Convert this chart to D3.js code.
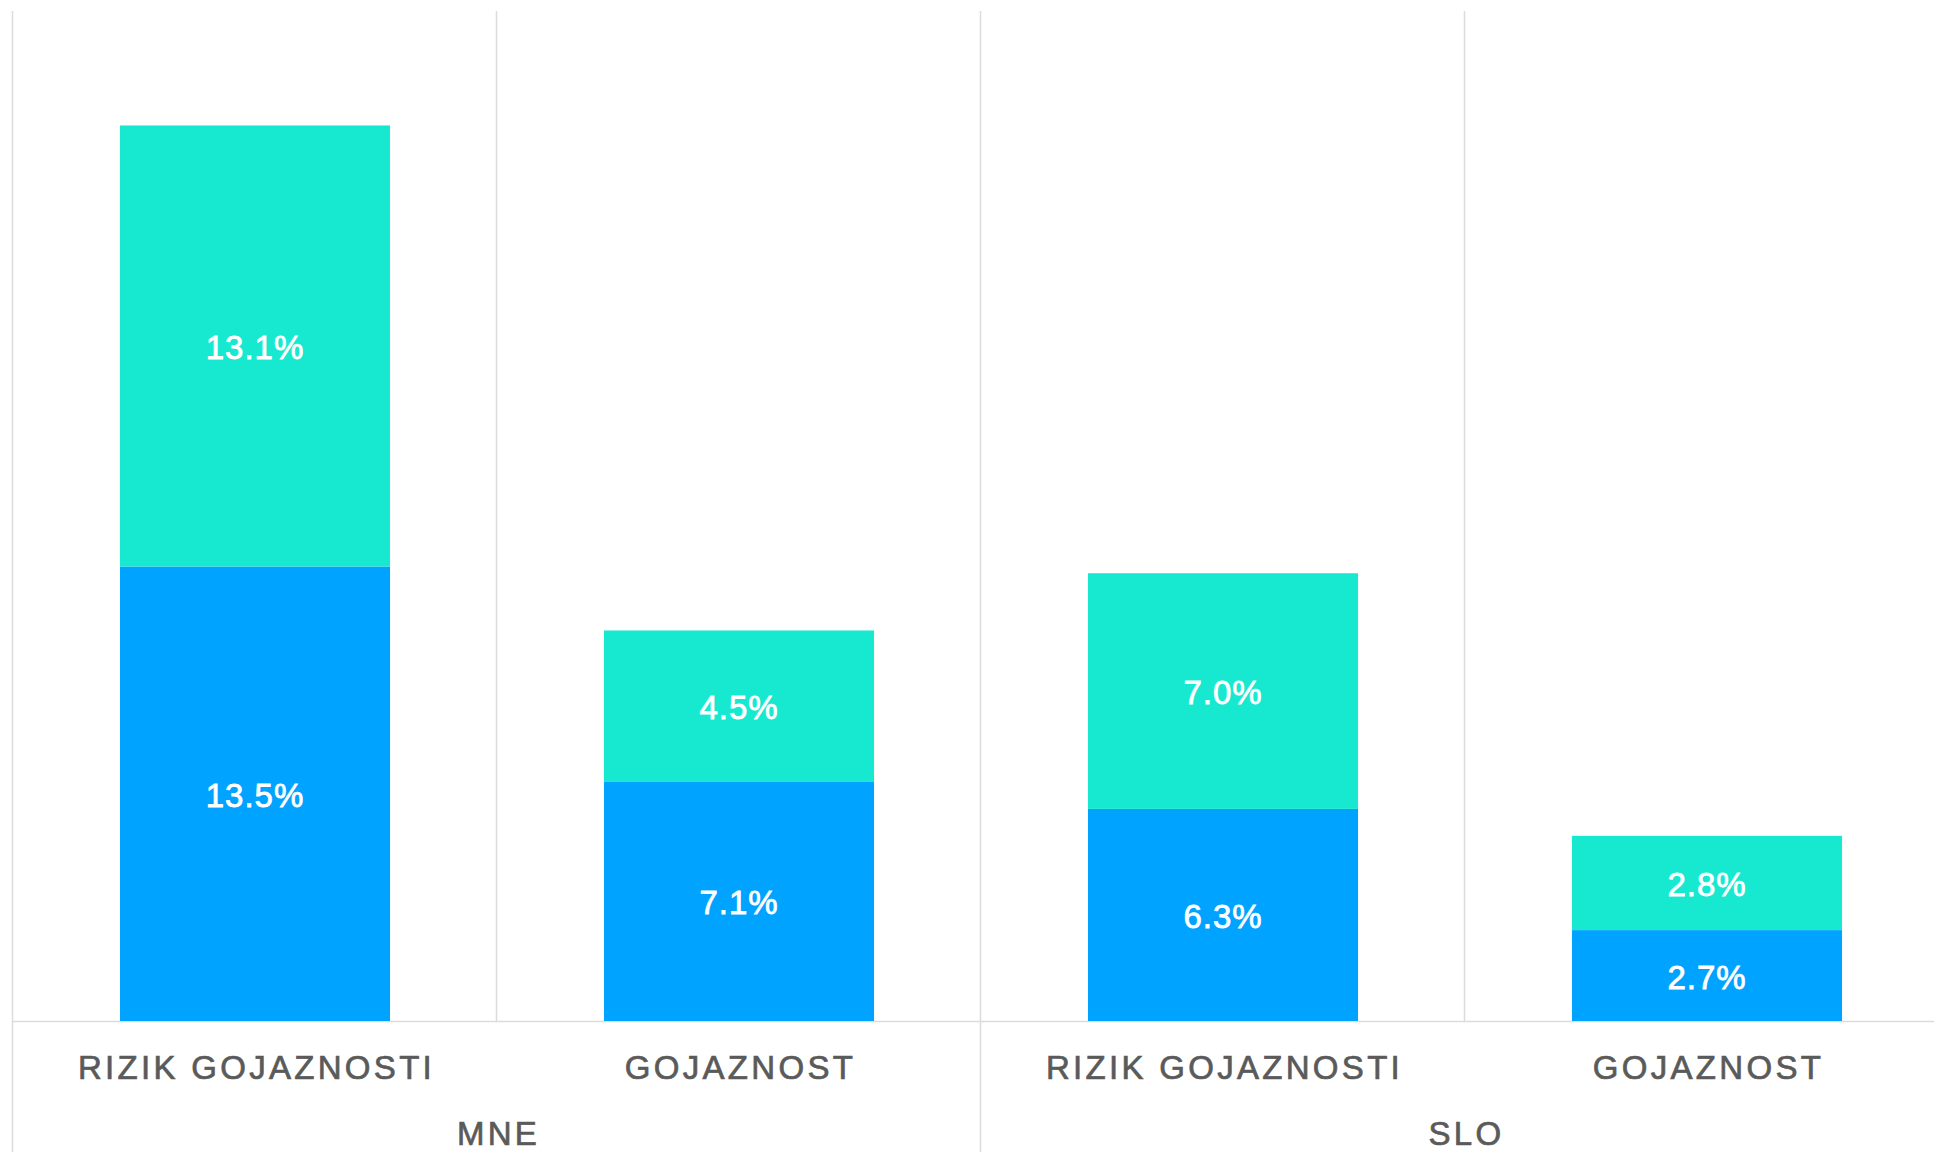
<!DOCTYPE html>
<html>
<head>
<meta charset="utf-8">
<script src="https://cdn.jsdelivr.net/npm/d3@7"></script>
<style>
  html, body { margin: 0; padding: 0; background: #ffffff; overflow: hidden; }
  svg { display: block; }
  text { font-family: "Liberation Sans", Arial, Helvetica, sans-serif; }
</style>
</head>
<body>
<svg id="chart" width="1934" height="1152"></svg>
<script>
// Country groups and the two bars shown inside each group
const groups = ["MNE", "SLO"];
const categories = ["RIZIK GOJAZNOSTI", "GOJAZNOST"];

// Stacked segment values (percent), listed per bar in reading order:
// MNE / rizik, MNE / gojaznost, SLO / rizik, SLO / gojaznost
const lowerValues = [13.5, 7.1, 6.3, 2.7];   // blue, bottom segment
const upperValues = [13.1, 4.5, 7.0, 2.8];   // teal, top segment

const yDomain = [0, 30];

const W = 1934, H = 1152;
const plotLeft = 13, plotRight = 1949;   // the last slot runs past the visible edge
const plotTop = 11, plotBottom = 1021;

const colorLower = "#00a3ff";
const colorUpper = "#17e9d1";
const gridColor = "#dcdcdc";
const labelColor = "#5a5a5a";

const svg = d3.select("#chart");

// One slot per (group, category) pair
const slots = [];
groups.forEach(g => categories.forEach(c => slots.push({ group: g, cat: c, key: g + "|" + c })));
slots.forEach((s, i) => { s.lower = lowerValues[i]; s.upper = upperValues[i]; });

const x = d3.scaleBand()
  .domain(slots.map(s => s.key))
  .range([plotLeft, plotRight])
  .paddingInner(0.442)
  .paddingOuter(0.221);

const y = d3.scaleLinear().domain(yDomain).range([plotBottom, plotTop]);

const step = x.step();
const slotStart = k => x(k) - x.paddingOuter() * step;

// Grid: a line at every slot boundary; group boundaries run to the bottom edge
const grid = svg.append("g");
d3.range(slots.length + 1).forEach(i => {
  const gx = Math.round(plotLeft + i * step) - 0.5;
  const groupEdge = i % categories.length === 0;
  grid.append("line")
    .attr("x1", gx).attr("x2", gx)
    .attr("y1", plotTop).attr("y2", groupEdge ? H : plotBottom)
    .attr("stroke", gridColor).attr("stroke-width", 1.5);
});

// Baseline
grid.append("line")
  .attr("x1", plotLeft - 1).attr("x2", W)
  .attr("y1", plotBottom + 0.5).attr("y2", plotBottom + 0.5)
  .attr("stroke", gridColor).attr("stroke-width", 1.5);

// Stacked bars
const series = d3.stack().keys(["lower", "upper"])(slots);
const colors = { lower: colorLower, upper: colorUpper };

const bars = svg.append("g");
series.forEach(layer => {
  bars.selectAll(null)
    .data(layer)
    .join("rect")
    .attr("x", d => x(d.data.key))
    .attr("width", x.bandwidth())
    .attr("y", d => y(d[1]))
    .attr("height", d => y(d[0]) - y(d[1]))
    .attr("fill", colors[layer.key]);
});

// Value labels centred in each segment (a thin stroke gives a medium weight)
const fmt = d3.format(".1f");
const labels = svg.append("g");
series.forEach(layer => {
  labels.selectAll(null)
    .data(layer)
    .join("text")
    .attr("x", d => x(d.data.key) + x.bandwidth() / 2)
    .attr("y", d => (y(d[0]) + y(d[1])) / 2 + 13)
    .attr("text-anchor", "middle")
    .attr("fill", "#ffffff")
    .attr("stroke", "#ffffff")
    .attr("stroke-width", 0.8)
    .attr("font-size", 33)
    .attr("letter-spacing", 1)
    .text(d => fmt(d[1] - d[0]) + "%");
});

// Category labels under each bar
svg.append("g").selectAll("text")
  .data(slots)
  .join("text")
  .attr("x", d => x(d.key) + x.bandwidth() / 2 + 1.5)
  .attr("y", 1079)
  .attr("text-anchor", "middle")
  .attr("fill", labelColor)
  .attr("stroke", labelColor)
  .attr("stroke-width", 0.7)
  .attr("font-size", 33)
  .attr("letter-spacing", 3.3)
  .text(d => d.cat);

// Group labels centred under their pair of bars
svg.append("g").selectAll("text")
  .data(groups)
  .join("text")
  .attr("x", g => slotStart(g + "|" + categories[0]) + step * categories.length / 2 + 1.5)
  .attr("y", 1145)
  .attr("text-anchor", "middle")
  .attr("fill", labelColor)
  .attr("stroke", labelColor)
  .attr("stroke-width", 0.7)
  .attr("font-size", 33)
  .attr("letter-spacing", 3.3)
  .text(g => g);
</script>
</body>
</html>
